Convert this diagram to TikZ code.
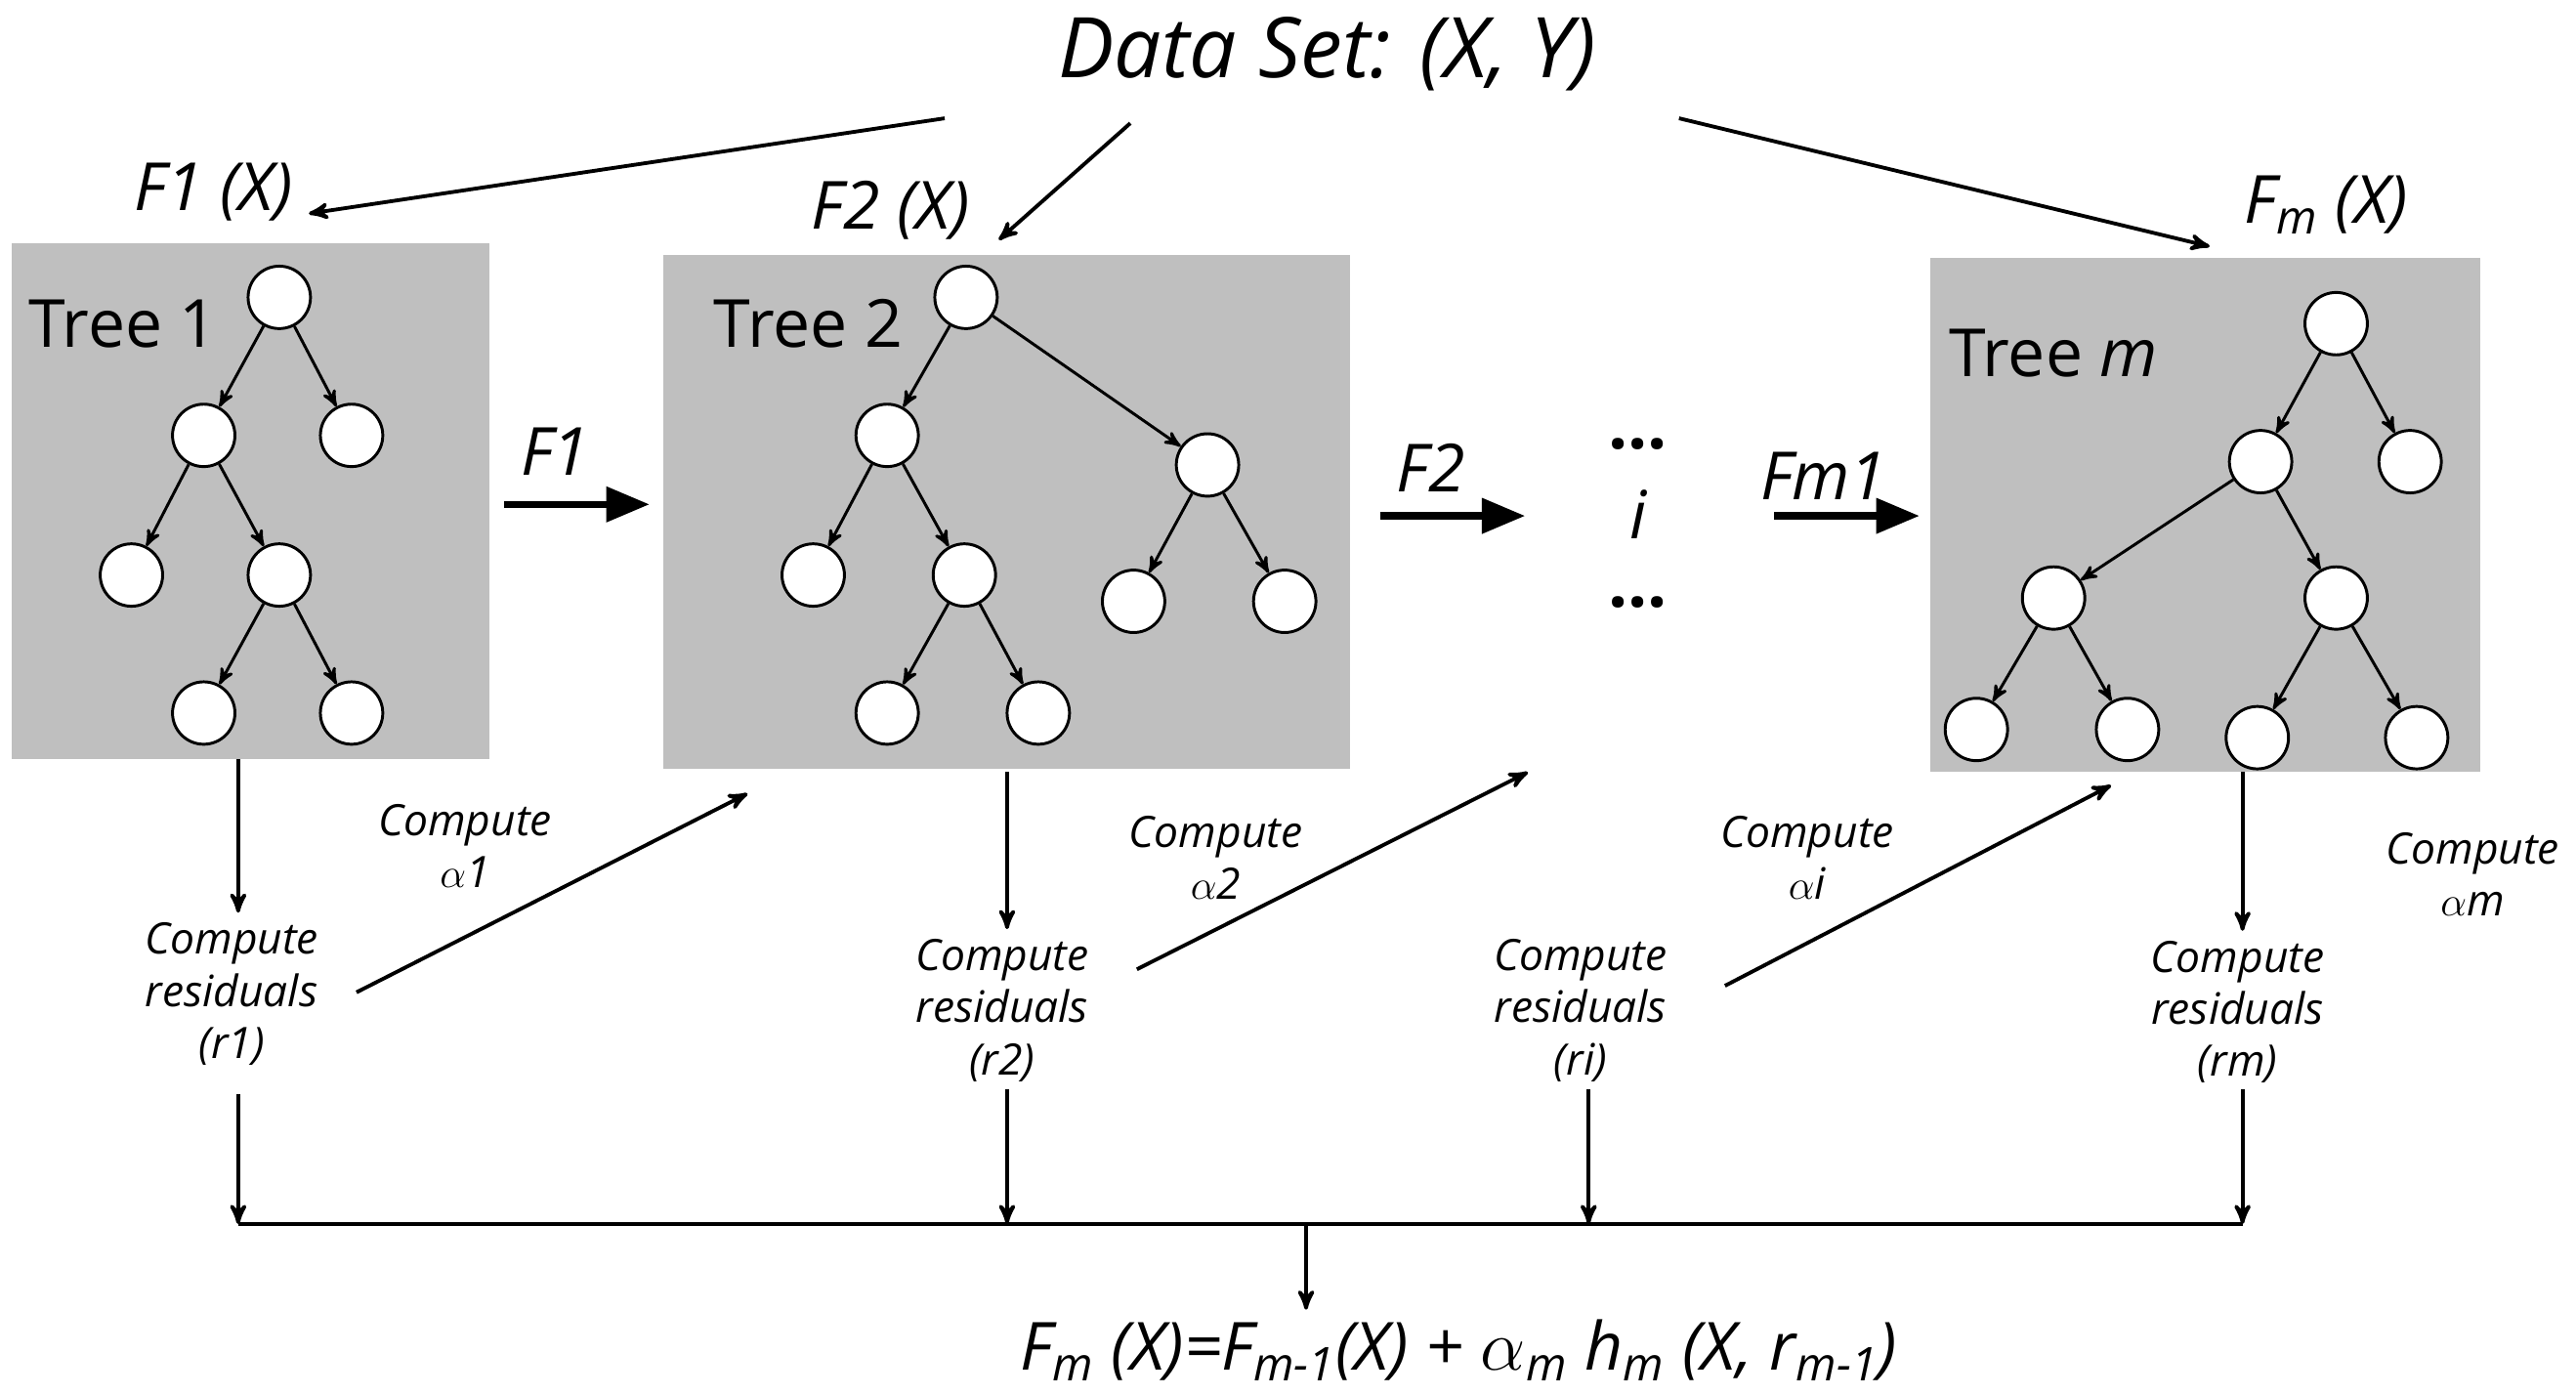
\documentclass[tikz,border=0pt]{standalone}
\usepackage{fontspec}
\setmainfont{Open Sans}
\usetikzlibrary{arrows, positioning}

\begin{document}
\begin{tikzpicture}[x=0.02cm, y=-0.02cm, >=stealth', font=\fontsize{15}{18}\selectfont\itshape]
  \tikzset{
    box/.style={
      fill=black!25, draw=none},
    leaf/.style={
      circle, draw=black, fill=white, line width=1pt,
      minimum size=0.76cm, inner sep=0pt},
    big/.style={
      font=\fontsize{23}{28}\selectfont\itshape},
    link/.style={
      ->, line width=1.3pt},
    dots/.style={
      font=\fontsize{24}{24}\selectfont\bfseries, inner sep=0pt,
      text height=4pt, text depth=0pt},
    blank/.style={
      align=center, text centered}}

  \useasboundingbox (0,0) rectangle (1568,849);

  % boxes
  \fill[box] (7,148) rectangle (298,462);
  \fill[box] (404,155) rectangle (822,468);
  \fill[box] (1175,157) rectangle (1510,470);

  \node[font=\fontsize{29}{34}\selectfont\itshape] (data) at (808,33) {Data Set: (X, Y)};
  \node[big] (f1x) at (130,117) {F1 (X)};
  \node[big] (f2x) at (542,128) {F2 (X)};
  \node[big] (fmx) at (1416,125) {F\textsubscript{m} (X)};

  \coordinate (d1) at (575,72);
  \coordinate (d2) at (688,75);
  \coordinate (d3) at (1022,72);
  \coordinate (t1) at (188,130);
  \coordinate (t2) at (608,146);
  \coordinate (t3) at (1345,150);
  \draw[link] (d1) -- (t1);
  \draw[link] (d2) -- (t2);
  \draw[link] (d3) -- (t3);

  % tree 1
  \node[font=\fontsize{23}{28}\selectfont] (lab1) at (75,197) {Tree 1};
  \node[leaf] (a1) at (170,181) {};
  \node[leaf] (a2) at (124,265) {};
  \node[leaf] (a3) at (214,265) {};
  \node[leaf] (a4) at (80,350) {};
  \node[leaf] (a5) at (170,350) {};
  \node[leaf] (a6) at (124,434) {};
  \node[leaf] (a7) at (214,434) {};
  \path[->, line width=1pt] (a1) edge (a2) (a1) edge (a3) (a2) edge (a4) (a2) edge (a5)
            (a5) edge (a6) (a5) edge (a7);

  % tree 2
  \node[font=\fontsize{23}{28}\selectfont] (lab2) at (492,197) {Tree 2};
  \node[leaf] (b1) at (588,181) {};
  \node[leaf] (b2) at (540,265) {};
  \node[leaf] (b3) at (735,283) {};
  \node[leaf] (b4) at (495,350) {};
  \node[leaf] (b5) at (587,350) {};
  \node[leaf] (b6) at (540,434) {};
  \node[leaf] (b7) at (632,434) {};
  \node[leaf] (b8) at (690,366) {};
  \node[leaf] (b9) at (782,366) {};
  \path[->, line width=1pt] (b1) edge (b2) (b1) edge (b3) (b2) edge (b4) (b2) edge (b5)
            (b5) edge (b6) (b5) edge (b7) (b3) edge (b8) (b3) edge (b9);

  % tree m
  \node[font=\fontsize{23}{28}\selectfont] (labm) at (1250,215) {Tree \textit{m}};
  \node[leaf] (c1) at (1422,197) {};
  \node[leaf] (c2) at (1376,281) {};
  \node[leaf] (c3) at (1467,281) {};
  \node[leaf] (c4) at (1250,364) {};
  \node[leaf] (c5) at (1422,364) {};
  \node[leaf] (c6) at (1203,444) {};
  \node[leaf] (c7) at (1295,444) {};
  \node[leaf] (c8) at (1374,449) {};
  \node[leaf] (c9) at (1471,449) {};
  \path[->, line width=1pt] (c1) edge (c2) (c1) edge (c3) (c2) edge (c4) (c2) edge (c5)
            (c4) edge (c6) (c4) edge (c7) (c5) edge (c8) (c5) edge (c9);

  % passing F
  \node[big] (lf1) at (338,275) {F1};
  \node[big] (lf2) at (871,285) {F2};
  \node[big] (lfm) at (1110,290) {Fm1};
  \coordinate (p1) at (307,307); \coordinate (q1) at (395,307);
  \coordinate (p2) at (840,314); \coordinate (q2) at (928,314);
  \coordinate (p3) at (1080,314); \coordinate (q3) at (1168,314);
  \draw[-triangle 45, line width=2.5pt] (p1) -- (q1);
  \draw[-triangle 45, line width=2.5pt] (p2) -- (q2);
  \draw[-triangle 45, line width=2.5pt] (p3) -- (q3);
  \node[dots] (dt) at (997,270) {...};
  \node[big, inner sep=0pt] (ii) at (997,313) {i};
  \node[dots] (db) at (997,366) {...};

  % residuals
  \node[blank] (r1) at (141,605) {Compute\\residuals\\(r1)};
  \node[blank] (r2) at (610,615) {Compute\\residuals\\(r2)};
  \node[blank] (ri) at (962,615) {Compute\\residuals\\(ri)};
  \node[blank] (rm) at (1362,616) {Compute\\residuals\\(rm)};
  \coordinate (s1) at (145,462); \coordinate (s2) at (613,470); \coordinate (sm) at (1365,470);
  \draw[link] (s1) -- (r1.north -| s1);
  \draw[link] (s2) -- (r2.north -| s2);
  \draw[link] (sm) -- (rm.north -| sm);

  % alphas
  \node[blank] (al1) at (283,515) {Compute\\$\alpha$1};
  \node[blank] (al2) at (740,522) {Compute\\$\alpha$2};
  \node[blank] (ali) at (1100,522) {Compute\\$\alpha$i};
  \node[blank] (alm) at (1505,532) {Compute\\$\alpha$m};
  \coordinate (u1) at (217,604); \coordinate (v1) at (455,483);
  \coordinate (u2) at (692,590); \coordinate (v2) at (930,470);
  \coordinate (u3) at (1050,600); \coordinate (v3) at (1285,478);
  \draw[link] (u1) -- (v1);
  \draw[link] (u2) -- (v2);
  \draw[link] (u3) -- (v3);

  % sum
  \coordinate (h1) at (145,745); \coordinate (h2) at (613,745);
  \coordinate (h3) at (967,745); \coordinate (h4) at (1365,745);
  \draw[link] (145,666) -- (h1);
  \draw[link] (613,663) -- (h2);
  \draw[link] (967,663) -- (h3);
  \draw[link] (1365,663) -- (h4);
  \draw[line width=1.3pt] (h1) -- (h4);
  \node[big] (res) at (888,822)
    {F\textsubscript{m} (X)=F\textsubscript{m-1}(X) + $\alpha$\textsubscript{m} h\textsubscript{m} (X, r\textsubscript{m-1})};
  \coordinate (hm) at (795,745);
  \draw[link] (hm) -- (res.north -| hm);
\end{tikzpicture}
\end{document}
